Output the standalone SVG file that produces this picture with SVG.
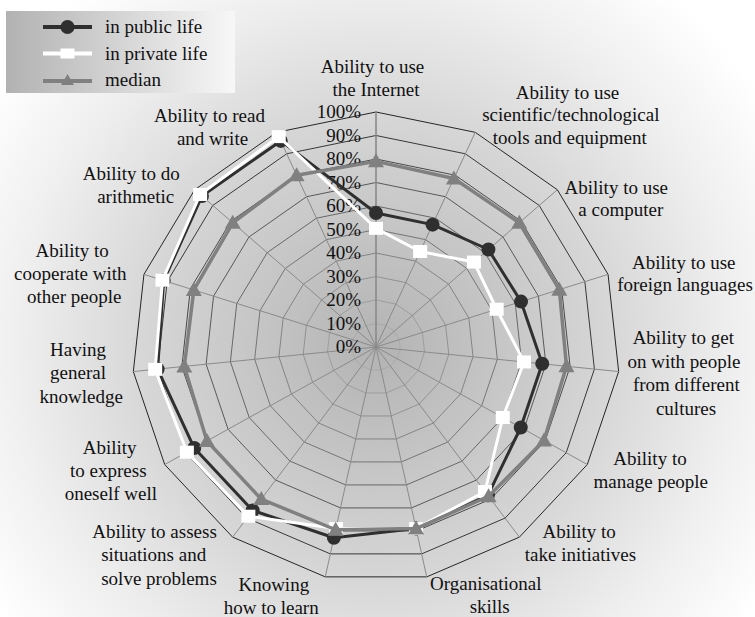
<svg xmlns="http://www.w3.org/2000/svg" xmlns:xlink="http://www.w3.org/1999/xlink" width="755" height="617" viewBox="0 0 755 617" font-family="'Liberation Serif', Tinos, 'Times New Roman', 'DejaVu Serif', serif">
<style>
text{font-family:'Liberation Serif',Tinos,'Times New Roman','DejaVu Serif',serif;font-size:19px;fill:#111}
.ring{fill:none;stroke:#262626;stroke-width:1;vector-effect:non-scaling-stroke}
.spoke{stroke:#8a8a8a;stroke-width:1}
.pct{text-anchor:end}
.lab{text-anchor:middle}
.pub{fill:none;stroke:#2f2f2f;stroke-width:3;stroke-linejoin:round}
.prv{fill:none;stroke:#ffffff;stroke-width:3;stroke-linejoin:round}
.med{fill:none;stroke:#808080;stroke-width:3.5;stroke-linejoin:round}
</style>
<defs>
<radialGradient id="bg" gradientUnits="userSpaceOnUse" cx="376" cy="347" r="460">
<stop offset="0" stop-color="#b3b3b3"/>
<stop offset="0.5" stop-color="#d6d6d6"/>
<stop offset="0.78" stop-color="#efefef"/>
<stop offset="1" stop-color="#ffffff"/>
</radialGradient>
<linearGradient id="lg" x1="0" y1="0" x2="1" y2="0">
<stop offset="0" stop-color="#b2b2b2"/>
<stop offset="1" stop-color="#f7f7f7"/>
</linearGradient>
<polygon id="ring" points="0,-235 99.24,-214.68 181.33,-157.25 232.06,-72.62 242.66,24.56 211.31,117.5 143.42,190.12 50.73,229.87 -50.73,229.87 -143.42,190.12 -211.31,117.5 -242.66,24.56 -232.06,-72.62 -181.33,-157.25 -99.24,-214.68"/>
<marker id="mDot" markerUnits="userSpaceOnUse" markerWidth="20" markerHeight="20" refX="10" refY="10" overflow="visible">
<circle cx="10" cy="10" r="7" fill="#2f2f2f"/>
</marker>
<marker id="mSq" markerUnits="userSpaceOnUse" markerWidth="20" markerHeight="20" refX="10" refY="10" overflow="visible">
<rect x="3" y="3.5" width="14" height="13" fill="#ffffff"/>
</marker>
<marker id="mTri" markerUnits="userSpaceOnUse" markerWidth="20" markerHeight="20" refX="10" refY="10" overflow="visible">
<polygon points="10,2 18,16 2,16" fill="#808080"/>
</marker>
</defs>
<rect width="755" height="617" fill="url(#bg)"/>
<g id="grid" transform="translate(376,347)">
<use xlink:href="#ring" class="ring" transform="scale(0.1)"/>
<use xlink:href="#ring" class="ring" transform="scale(0.2)"/>
<use xlink:href="#ring" class="ring" transform="scale(0.3)"/>
<use xlink:href="#ring" class="ring" transform="scale(0.4)"/>
<use xlink:href="#ring" class="ring" transform="scale(0.5)"/>
<use xlink:href="#ring" class="ring" transform="scale(0.6)"/>
<use xlink:href="#ring" class="ring" transform="scale(0.7)"/>
<use xlink:href="#ring" class="ring" transform="scale(0.8)"/>
<use xlink:href="#ring" class="ring" transform="scale(0.9)"/>
<use xlink:href="#ring" class="ring"/>
<g class="spoke">
<line x1="0" y1="0" x2="0" y2="-235" stroke-width="1.6"/>
<line x1="0" y1="0" x2="99.24" y2="-214.68"/>
<line x1="0" y1="0" x2="181.33" y2="-157.25"/>
<line x1="0" y1="0" x2="232.06" y2="-72.62"/>
<line x1="0" y1="0" x2="242.66" y2="24.56"/>
<line x1="0" y1="0" x2="211.31" y2="117.5"/>
<line x1="0" y1="0" x2="143.42" y2="190.12"/>
<line x1="0" y1="0" x2="50.73" y2="229.87"/>
<line x1="0" y1="0" x2="-50.73" y2="229.87"/>
<line x1="0" y1="0" x2="-143.42" y2="190.12"/>
<line x1="0" y1="0" x2="-211.31" y2="117.5"/>
<line x1="0" y1="0" x2="-242.66" y2="24.56"/>
<line x1="0" y1="0" x2="-232.06" y2="-72.62"/>
<line x1="0" y1="0" x2="-181.33" y2="-157.25"/>
<line x1="0" y1="0" x2="-99.24" y2="-214.68"/>
</g>
</g>
<g id="scale-labels" class="pct">
<text x="361" y="353">0%</text>
<text x="361" y="329.5">10%</text>
<text x="361" y="306">20%</text>
<text x="361" y="282.5">30%</text>
<text x="361" y="259">40%</text>
<text x="361" y="235.5">50%</text>
<text x="361" y="212">60%</text>
<text x="361" y="188.5">70%</text>
<text x="361" y="165">80%</text>
<text x="361" y="141.5">90%</text>
<text x="361" y="118">100%</text>
</g>
<g id="series" transform="translate(376,347)">
<polygon id="public" class="pub" marker-start="url(#mDot)" marker-mid="url(#mDot)" points="0,-133.95 56.57,-122.37 112.42,-97.5 145.04,-45.39 166.22,16.82 144.75,80.49 111.87,148.29 40.08,181.6 -42.11,190.79 -123.34,163.5 -181.73,101.05 -218.39,22.1 -212.33,-66.45 -174.08,-150.96 -95.27,-206.09"/>
<polygon id="private" class="prv" marker-start="url(#mSq)" marker-mid="url(#mSq)" points="0,-118.68 44.16,-95.53 97.92,-84.92 120.67,-37.76 148.02,14.98 126.79,70.5 109,144.49 40.08,181.6 -40.08,181.6 -127.64,169.21 -189.12,105.16 -220.82,22.35 -213.5,-66.81 -175.89,-152.53 -97.26,-210.39"/>
<polygon id="median" class="med" marker-start="url(#mTri)" marker-mid="url(#mTri)" points="0,-185.65 77.9,-168.52 143.25,-124.23 183.33,-57.37 190.49,19.28 167.99,93.41 112.58,149.24 40.08,181.6 -40.33,182.75 -114.74,152.1 -169.05,94 -191.7,19.4 -182.17,-57.01 -143.25,-124.23 -79.39,-171.74"/>
</g>
<g id="axis-labels" class="lab">
<text><tspan x="372.5" y="73">Ability to use</tspan><tspan x="376" y="96">the Internet</tspan></text>
<text><tspan x="567.5" y="98.5">Ability to use</tspan><tspan x="570.8" y="121">scientific/technological</tspan><tspan x="569.7" y="143.5">tools and equipment</tspan></text>
<text><tspan x="616.3" y="193.5">Ability to use</tspan><tspan x="620.8" y="216">a computer</tspan></text>
<text><tspan x="683.8" y="268.5">Ability to use</tspan><tspan x="685" y="291">foreign languages</tspan></text>
<text><tspan x="683.3" y="344">Ability to get</tspan><tspan x="684" y="367.5">on with people</tspan><tspan x="686.3" y="391">from different</tspan><tspan x="686" y="414.5">cultures</tspan></text>
<text><tspan x="650" y="465">Ability to</tspan><tspan x="650.8" y="488">manage people</tspan></text>
<text><tspan x="579.2" y="538">Ability to</tspan><tspan x="580.5" y="561">take initiatives</tspan></text>
<text><tspan x="485.8" y="590">Organisational</tspan><tspan x="489.7" y="613">skills</tspan></text>
<text><tspan x="273.8" y="590.5">Knowing</tspan><tspan x="271.2" y="614">how to learn</tspan></text>
<text><tspan x="154.5" y="537.5">Ability to assess</tspan><tspan x="153.7" y="561">situations and</tspan><tspan x="159" y="584.5">solve problems</tspan></text>
<text><tspan x="109.7" y="453.5">Ability</tspan><tspan x="108.3" y="476.5">to express</tspan><tspan x="110.8" y="499.5">oneself well</tspan></text>
<text><tspan x="78" y="355.5">Having</tspan><tspan x="78" y="379">general</tspan><tspan x="81.3" y="402.5">knowledge</tspan></text>
<text><tspan x="72.2" y="256.5">Ability to</tspan><tspan x="70.3" y="280">cooperate with</tspan><tspan x="74.2" y="303">other people</tspan></text>
<text><tspan x="131.3" y="179.5">Ability to do</tspan><tspan x="135.7" y="203">arithmetic</tspan></text>
<text><tspan x="209.5" y="121.5">Ability to read</tspan><tspan x="212.5" y="144.5">and write</tspan></text>
</g>
<g id="legend">
<rect x="6" y="11" width="229" height="82" fill="url(#lg)"/>
<line x1="43" y1="27" x2="92" y2="27" stroke="#2f2f2f" stroke-width="4"/>
<circle cx="67.5" cy="27" r="7" fill="#2f2f2f"/>
<line x1="43" y1="53.5" x2="92" y2="53.5" stroke="#ffffff" stroke-width="4"/>
<rect x="60.5" y="48.5" width="14" height="10" fill="#ffffff"/>
<line x1="43" y1="81" x2="92" y2="81" stroke="#808080" stroke-width="4"/>
<polygon points="67.5,74 74,85 61,85" fill="#808080"/>
<text x="105" y="33">in public life</text>
<text x="105" y="59.5">in private life</text>
<text x="105" y="86">median</text>
</g>
</svg>
